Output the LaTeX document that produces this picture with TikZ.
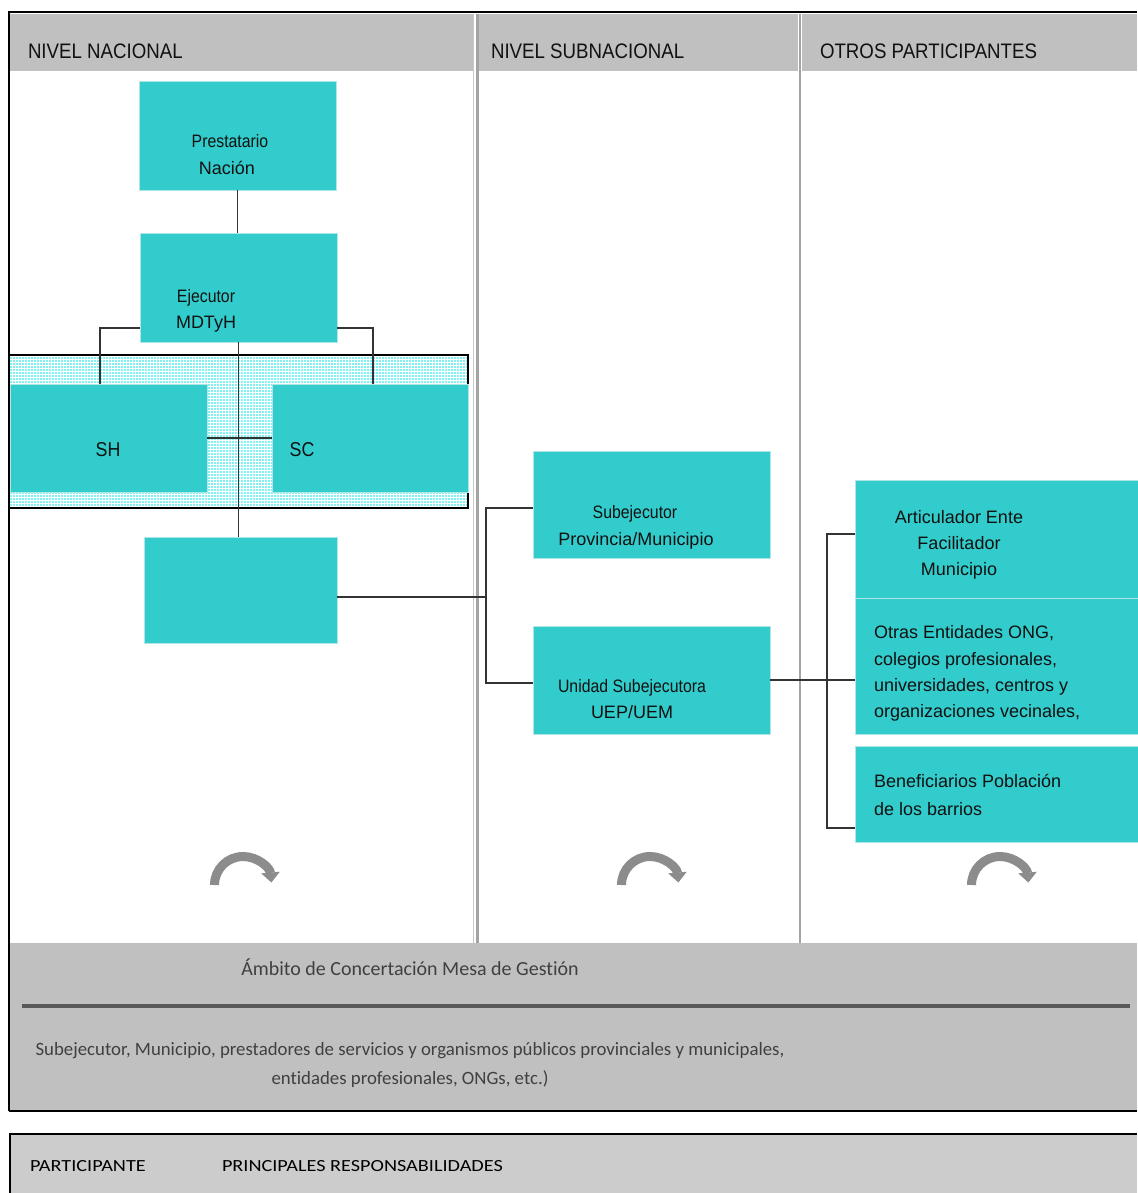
\documentclass[tikz,border=0pt]{standalone}
\usepackage{fontspec}
\setmainfont{Liberation Sans}
\newfontfamily\narrowf[FakeStretch=0.88]{Liberation Sans}
\newfontfamily\headf[FakeStretch=0.89]{Liberation Sans}
\newfontfamily\carlito[Ligatures=NoCommon]{Carlito}
\newfontfamily\carlitowide[FakeStretch=1.19,Ligatures=NoCommon]{Carlito}
\usetikzlibrary{patterns,arrows.meta,calc}
\definecolor{boxteal}{HTML}{33CCCC}
\definecolor{boxedge}{HTML}{B0E6E6}
\definecolor{hdrgray}{HTML}{C0C0C0}
\definecolor{tblgray}{HTML}{CCCCCC}
\definecolor{sepgray}{HTML}{A4A4A4}
\definecolor{rulegray}{HTML}{5A5A5A}
\definecolor{arcgray}{HTML}{8C8C8C}
\definecolor{connc}{HTML}{333333}
\definecolor{txtc}{HTML}{111111}
\definecolor{hatchc}{HTML}{80F2F2}
\definecolor{bandtxt}{HTML}{404040}
\begin{document}
\begin{tikzpicture}[x=1pt,y=-1pt,
  box/.style={fill=boxteal, draw=boxedge, line width=0.8pt, inner sep=0pt, outer sep=0pt},
  conn/.style={draw=connc, line width=1.4pt},
  txt/.style={anchor=base, inner sep=0pt, outer sep=0pt, text=txtc, font=\fontsize{18}{21}\selectfont},
  ntxt/.style={txt, font=\narrowf\fontsize{18}{21}\selectfont},
  ltxt/.style={txt, anchor=base west},
  htxt/.style={anchor=base west, inner sep=0pt, outer sep=0pt, text=txtc, font=\headf\fontsize{21}{24}\selectfont},
  stxt/.style={anchor=base, inner sep=0pt, outer sep=0pt, text=txtc, font=\headf\fontsize{20}{24}\selectfont},
  btxt/.style={anchor=base, inner sep=0pt, outer sep=0pt, text=bandtxt, font=\carlito\fontsize{20}{23}\selectfont},
  bstxt/.style={anchor=base, inner sep=0pt, outer sep=0pt, text=bandtxt, font=\carlito\fontsize{18.8}{22}\selectfont},
  ttxt/.style={anchor=base west, inner sep=0pt, outer sep=0pt, text=black, font=\carlitowide\fontsize{17}{20}\selectfont},
  carrow/.style={draw=arcgray, line width=9pt, -{Triangle[length=10pt,width=18pt]}}
]
\useasboundingbox (0,0) rectangle (1137,1193);
\fill[white] (0,0) rectangle (1137,1193);

% header bands
\fill[hdrgray] (10,14) rectangle (473,71);
\fill[hdrgray] (479,14) rectangle (798,71);
\fill[hdrgray] (802,14) rectangle (1137,71);
\draw[sepgray!60, line width=0.8pt] (473.5,14) -- (473.5,943);
\draw[sepgray, line width=3.5pt] (477.5,14) -- (477.5,943);
\draw[sepgray, line width=2pt] (800,14) -- (800,943);

\node[htxt] (h1) at (28,59) {NIVEL NACIONAL};
\node[htxt] (h2) at (491,59) {NIVEL SUBNACIONAL};
\node[htxt] (h3) at (820,59) {OTROS PARTICIPANTES};

% bottom band
\fill[hdrgray] (10,943) rectangle (1137,1110);
\draw[rulegray, line width=4pt] (22,1006) -- (1130,1006);
\node[btxt] (amb) at (410,975) {Ámbito de Concertación Mesa de Gestión};
\node[bstxt] (amb1) at (410,1055) {Subejecutor, Municipio, prestadores de servicios y organismos públicos provinciales y municipales,};
\node[bstxt] (amb2) at (410,1084) {entidades profesionales, ONGs, etc.)};

% outer frame
\draw[black, line width=1.5pt] (9,1111) -- (9,12) -- (1137,12);
\draw[black, line width=1.5pt] (9,1111) -- (1137,1111);

% bottom table
\fill[tblgray] (10,1134) rectangle (1137,1193);
\draw[black, line width=1.5pt] (10,1193) -- (10,1134) -- (1137,1134);
\node[ttxt] (t1) at (30,1171) {PARTICIPANTE};
\node[ttxt] (t2) at (222,1171) {PRINCIPALES RESPONSABILIDADES};

% hatched area
\draw[black, line width=1.5pt, preaction={fill=hatchc}, preaction={pattern=grid, pattern color=white}] (9.5,355) rectangle (468,508);

% boxes
\node[box, minimum width=197, minimum height=109] (pre) at (237.5,135.5) {};
\node[box, minimum width=197, minimum height=109] (ej) at (238.5,287.5) {};
\node[box, minimum width=197, minimum height=108] (sh) at (108.5,438) {};
\node[box, minimum width=196, minimum height=108] (sc) at (370,438) {};
\node[box, minimum width=193, minimum height=106] (emp) at (240.5,590) {};
\node[box, minimum width=237, minimum height=107] (sub) at (651.5,504.5) {};
\node[box, minimum width=237, minimum height=108] (uni) at (651.5,680) {};
\node[box, minimum width=285, minimum height=118] (art) at (997.5,539) {};
\node[box, minimum width=285, minimum height=136] (otr) at (997.5,666) {};
\node[box, minimum width=285, minimum height=96] (ben) at (997.5,794) {};

% texts
\node[ntxt] (pre1) at (230,148) {Prestatario};
\node[txt] (pre2) at (227,175) {Nación};
\node[ntxt] (ej1) at (206,302) {Ejecutor};
\node[txt] (ej2) at (206,328) {MDTyH};
\node[stxt] (shl) at (108,456) {SH};
\node[stxt] (scl) at (302,456) {SC};
\node[ntxt] (sub1) at (635,518) {Subejecutor};
\node[txt] (sub2) at (636,545) {Provincia/Municipio};
\node[ntxt] (uni1) at (632,692) {Unidad Subejecutora};
\node[txt] (uni2) at (632,718) {UEP/UEM};
\node[txt] (art1) at (959,523) {Articulador Ente};
\node[txt] (art2) at (959,549) {Facilitador};
\node[txt] (art3) at (959,575) {Municipio};
\node[ltxt] (otr1) at (874,638) {Otras Entidades ONG,};
\node[ltxt] (otr2) at (874,665) {colegios profesionales,};
\node[ltxt] (otr3) at (874,691) {universidades, centros y};
\node[ltxt] (otr4) at (874,717) {organizaciones vecinales,};
\node[ltxt] (ben1) at (874,787) {Beneficiarios Población};
\node[ltxt] (ben2) at (874,815) {de los barrios};

% connectors
\draw[conn] (pre.south) -- (pre.south |- ej.north);
\draw[conn] (ej.west |- 0,328) -| (sh.north -| 100,0);
\draw[conn] (ej.east |- 0,328) -| (sc.north -| 373,0);
\draw[conn] (ej.south) -- (ej.south |- emp.north);
\draw[conn] (sh.east) -- (sc.west);
\coordinate (b1) at (486,597);
\draw[conn] (emp.east |- b1) -- (b1);
\draw[conn] (sub.west |- 0,508) -| (b1) |- (uni.west |- 0,683);
\coordinate (b2) at (827,680);
\draw[conn] (uni.east |- b2) -- (otr.west |- b2);
\draw[conn] (art.west |- 0,534) -| (b2) |- (ben.west |- 0,828);

% curved arrows
\coordinate (a1) at (243,885);
\coordinate (a2) at (650,885);
\coordinate (a3) at (1000,885);
\draw[carrow] (a1) ++(180:28.5) arc[start angle=180, end angle=355, radius=28.5];
\draw[carrow] (a2) ++(180:28.5) arc[start angle=180, end angle=355, radius=28.5];
\draw[carrow] (a3) ++(180:28.5) arc[start angle=180, end angle=355, radius=28.5];
\end{tikzpicture}
\end{document}
